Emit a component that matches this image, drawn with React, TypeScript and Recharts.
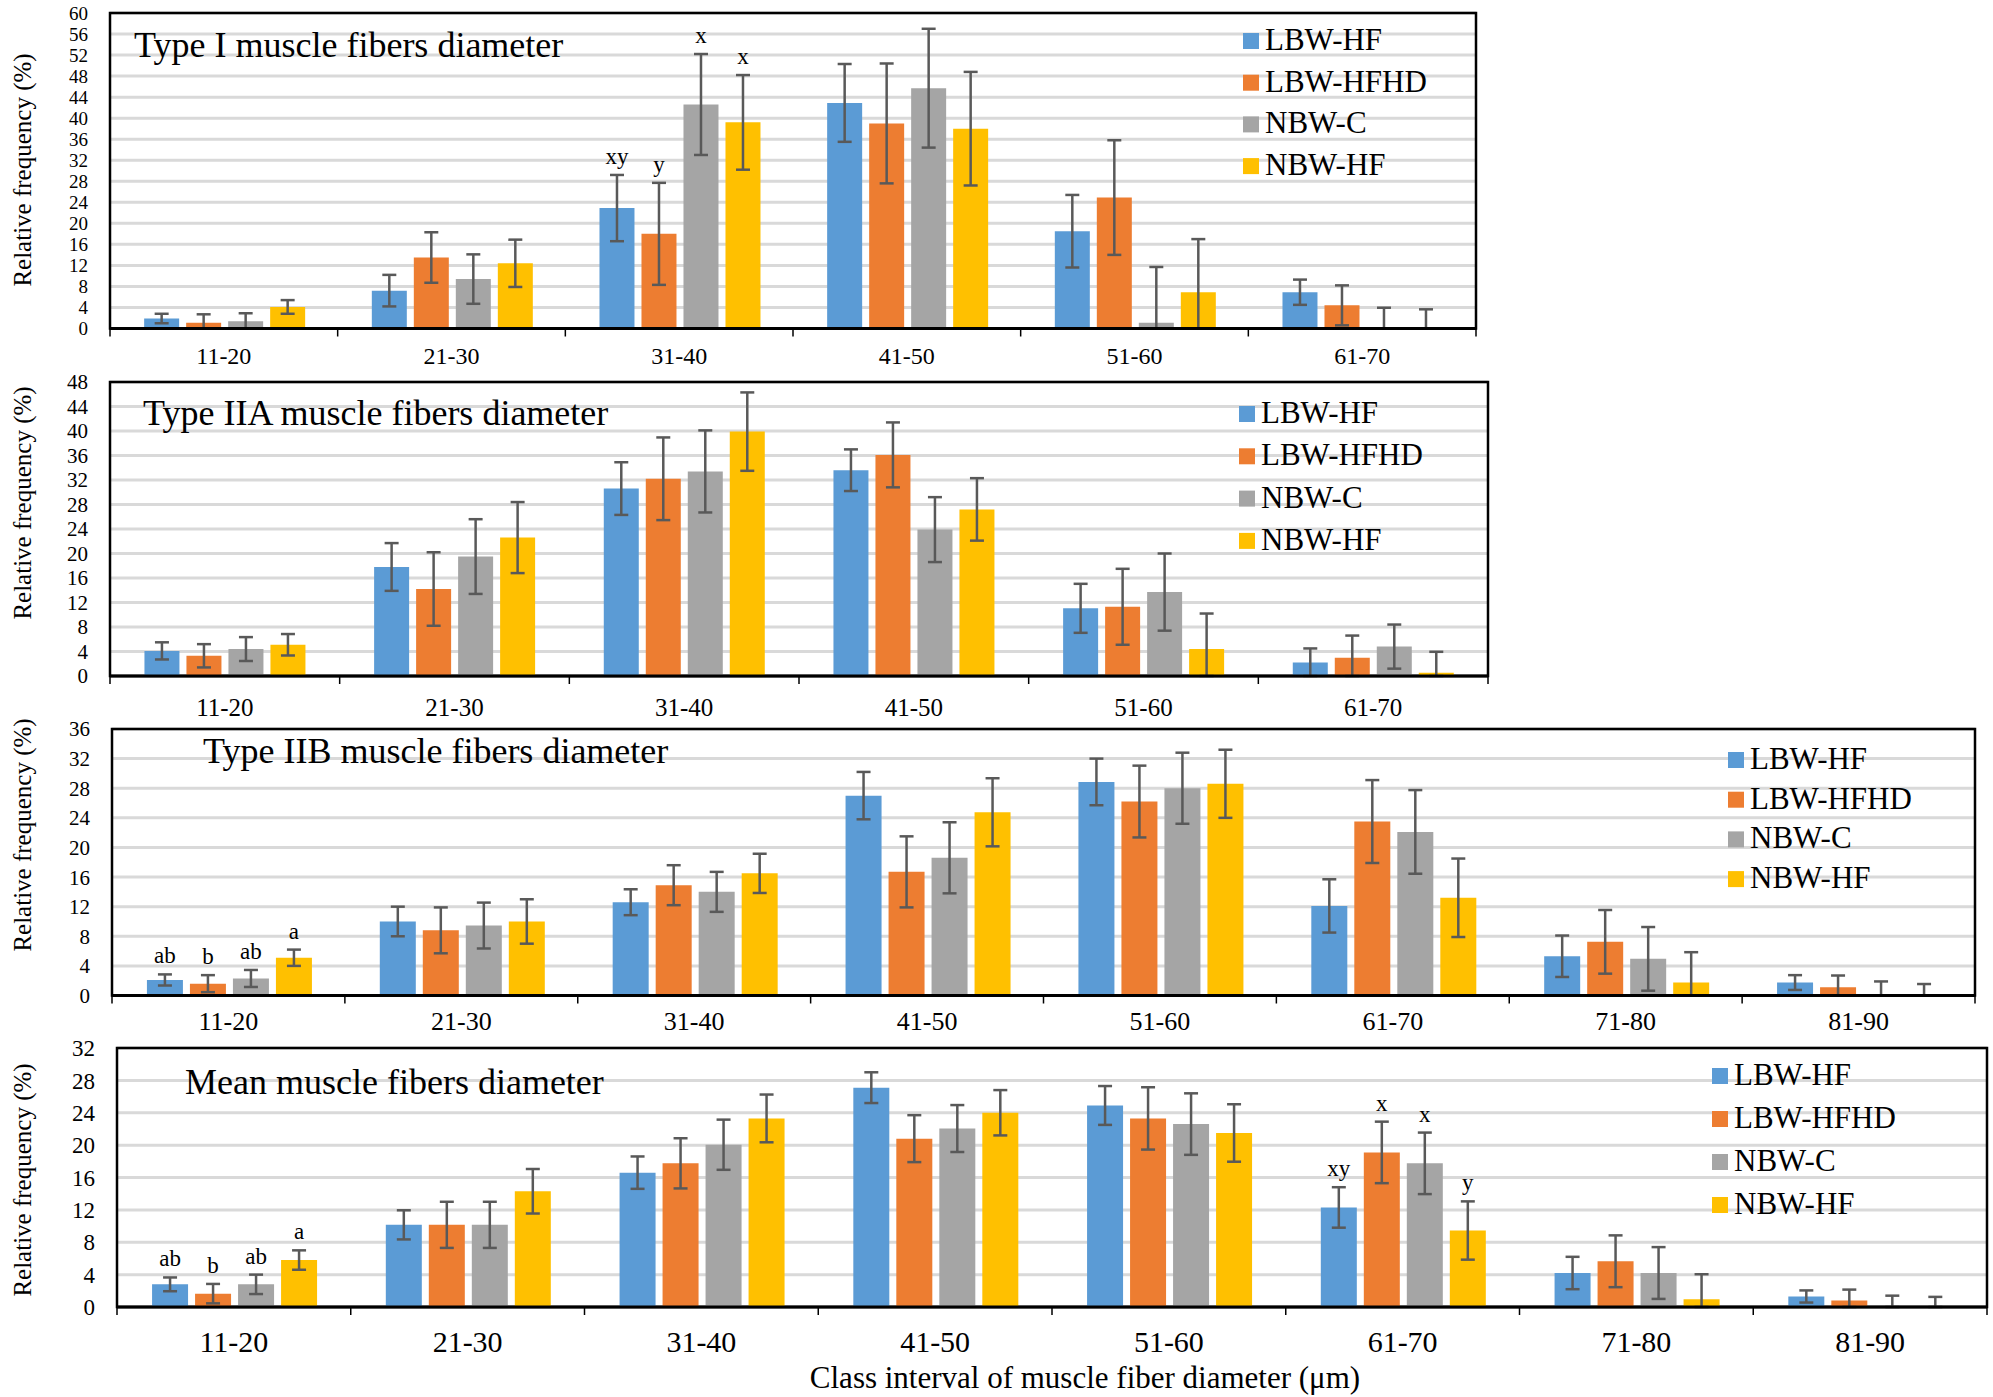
import React from "react";
import {
  BarChart,
  Bar,
  XAxis,
  YAxis,
  CartesianGrid,
  ErrorBar,
  LabelList,
  Legend,
  ReferenceArea,
} from "recharts";

const GROUPS = ["LBW-HF", "LBW-HFHD", "NBW-C", "NBW-HF"];
const COLORS = ["#5B9BD5", "#ED7D31", "#A5A5A5", "#FFC000"];
const SERIF = '"Liberation Serif", "Times New Roman", serif';

const CLASSES_6 = ["11-20", "21-30", "31-40", "41-50", "51-60", "61-70"];
const CLASSES_8 = ["11-20", "21-30", "31-40", "41-50", "51-60", "61-70", "71-80", "81-90"];

const TICKS_60 = [0, 4, 8, 12, 16, 20, 24, 28, 32, 36, 40, 44, 48, 52, 56, 60];
const TICKS_48 = [0, 4, 8, 12, 16, 20, 24, 28, 32, 36, 40, 44, 48];
const TICKS_36 = [0, 4, 8, 12, 16, 20, 24, 28, 32, 36];
const TICKS_32 = [0, 4, 8, 12, 16, 20, 24, 28, 32];

// rows follow GROUPS: LBW-HF, LBW-HFHD, NBW-C, NBW-HF
const typeIMean = [
  [1.9, 7.2, 22.9, 42.9, 18.5, 6.9],
  [1.1, 13.5, 18.0, 39.0, 24.9, 4.4],
  [1.4, 9.4, 42.6, 45.7, 1.1, 0.05],
  [4.1, 12.4, 39.2, 38.0, 6.9, 0.05],
];
const typeISd = [
  [0.9, 3.0, 6.3, 7.4, 6.9, 2.4],
  [1.6, 4.8, 9.7, 11.4, 10.9, 3.8],
  [1.5, 4.7, 9.6, 11.3, 10.6, 3.9],
  [1.3, 4.5, 9.0, 10.8, 10.1, 3.6],
];
const typeILetters = [
  ["", "", "xy", "", "", ""],
  ["", "", "y", "", "", ""],
  ["", "", "x", "", "", ""],
  ["", "", "x", "", "", ""],
];

const typeIIAMean = [
  [4.1, 17.8, 30.6, 33.6, 11.05, 2.2],
  [3.3, 14.2, 32.2, 36.1, 11.3, 3.0],
  [4.4, 19.5, 33.4, 23.9, 13.7, 4.8],
  [5.1, 22.6, 39.9, 27.2, 4.4, 0.55],
];
const typeIIASd = [
  [1.4, 3.9, 4.3, 3.4, 4.0, 2.3],
  [1.9, 6.0, 6.75, 5.3, 6.2, 3.6],
  [1.95, 6.1, 6.7, 5.3, 6.3, 3.6],
  [1.75, 5.8, 6.4, 5.1, 5.8, 3.4],
];

const typeIIBMean = [
  [2.1, 10.0, 12.6, 27.0, 28.85, 12.1, 5.3, 1.75],
  [1.6, 8.8, 14.9, 16.7, 26.2, 23.5, 7.25, 1.1],
  [2.3, 9.45, 14.0, 18.6, 28.0, 22.1, 4.95, 0.1],
  [5.1, 10.0, 16.5, 24.75, 28.6, 13.2, 1.75, 0.05],
];
const typeIIBSd = [
  [0.75, 2.0, 1.75, 3.2, 3.15, 3.6, 2.8, 1.0],
  [1.15, 3.1, 2.7, 4.8, 4.85, 5.6, 4.3, 1.6],
  [1.15, 3.1, 2.7, 4.8, 4.8, 5.65, 4.3, 1.8],
  [1.1, 3.0, 2.65, 4.6, 4.6, 5.3, 4.1, 1.5],
];
const typeIIBLetters = [
  ["ab", "", "", "", "", "", "", ""],
  ["b", "", "", "", "", "", "", ""],
  ["ab", "", "", "", "", "", "", ""],
  ["a", "", "", "", "", "", "", ""],
];

const meanMean = [
  [2.8, 10.15, 16.6, 27.1, 24.9, 12.3, 4.2, 1.3],
  [1.65, 10.15, 17.75, 20.8, 23.3, 19.1, 5.65, 0.8],
  [2.8, 10.15, 20.05, 22.05, 22.6, 17.75, 4.2, 0.05],
  [5.8, 14.3, 23.3, 24.0, 21.5, 9.45, 0.95, 0.05],
];
const meanSd = [
  [0.85, 1.8, 2.0, 1.9, 2.4, 2.5, 2.0, 0.75],
  [1.2, 2.85, 3.1, 2.9, 3.85, 3.8, 3.2, 1.35],
  [1.2, 2.85, 3.1, 2.9, 3.8, 3.8, 3.2, 1.35],
  [1.2, 2.75, 2.95, 2.8, 3.55, 3.6, 3.1, 1.2],
];
const meanLetters = [
  ["ab", "", "", "", "", "xy", "", ""],
  ["b", "", "", "", "", "x", "", ""],
  ["ab", "", "", "", "", "x", "", ""],
  ["a", "", "", "", "", "y", "", ""],
];

type PanelProps = {
  classes: string[];
  mean: number[][];
  sd: number[][];
  letters?: string[][];
  ticks: number[];
  yFont: number;
  plotLeft: number;
  plotRight: number;
  plotTop: number;
  plotBottom: number;
  tickFont: number;
  tickBaseline: number;
  legendX: number;
  legendY: number;
  legendGap: number;
};

const TOP_PAD = 24;

function Panel(p: PanelProps) {
  const rows = p.classes.map((cls, i) => {
    const row: Record<string, any> = { cls };
    GROUPS.forEach((_, k) => {
      const m = p.mean[k][i];
      const s = p.sd[k][i];
      row[`m${k}`] = m;
      row[`e${k}`] = [Math.min(s, m), s];
      row[`s${k}`] = s;
      row[`t${k}`] = p.letters ? p.letters[k][i] : "";
    });
    return row;
  });

  const top = p.plotTop - TOP_PAD;
  const width = p.plotRight + 10;
  const xAxisH = 60;
  const height = p.plotBottom - top + xAxisH;
  const yMax = p.ticks[p.ticks.length - 1];

  const ClassTick = (t: any) => {
    const half =
      t.payload && t.payload.offset ? t.payload.offset : t.width / t.visibleTicksCount / 2;
    const axisY = p.plotBottom - top;
    return (
      <g>
        <line x1={t.x - half} x2={t.x - half} y1={axisY} y2={axisY + 8} stroke="#000" strokeWidth={1.5} />
        {t.index === t.visibleTicksCount - 1 && (
          <line x1={t.x + half} x2={t.x + half} y1={axisY} y2={axisY + 8} stroke="#000" strokeWidth={1.5} />
        )}
        <text
          x={t.x}
          y={axisY + p.tickBaseline}
          textAnchor="middle"
          fontFamily={SERIF}
          fontSize={p.tickFont}
          fill="#000"
        >
          {t.payload.value}
        </text>
      </g>
    );
  };

  const letterContent = (k: number) => (lp: any) => {
    const value = lp.value;
    if (!value) return null;
    const vb = lp.viewBox || lp;
    const x = Number(vb.x ?? lp.x);
    const y = Number(vb.y ?? lp.y);
    const w = Number(vb.width ?? lp.width);
    const h = Number(vb.height ?? lp.height);
    const row = rows[lp.index];
    const errTop = y - (row[`s${k}`] / row[`m${k}`]) * h;
    return (
      <text x={x + w / 2} y={errTop - 11} textAnchor="middle" fontFamily={SERIF} fontSize={23} fill="#000">
        {value}
      </text>
    );
  };

  const renderLegend = () => (
    <svg width={230} height={40 + p.legendGap * 3}>
      {GROUPS.map((g, k) => (
        <g key={g}>
          <rect x={0} y={30 + k * p.legendGap - 17} width={16} height={16} fill={COLORS[k]} />
          <text x={22} y={30 + k * p.legendGap} fontFamily={SERIF} fontSize={31} fill="#000">
            {g}
          </text>
        </g>
      ))}
    </svg>
  );

  return (
    <div style={{ position: "absolute", left: 0, top }}>
      <BarChart
        width={width}
        height={height}
        data={rows}
        margin={{ top: TOP_PAD, right: 10, bottom: 0, left: 0 }}
        barCategoryGap="15%"
        barGap={7}
      >
        <CartesianGrid vertical={false} stroke="#D9D9D9" strokeWidth={3} />
        <XAxis
          dataKey="cls"
          height={xAxisH}
          interval={0}
          axisLine={{ stroke: "#000", strokeWidth: 3 }}
          tickLine={false}
          tickSize={0}
          tickMargin={0}
          tick={ClassTick}
        />
        <YAxis
          width={p.plotLeft}
          domain={[0, yMax]}
          ticks={p.ticks}
          interval={0}
          axisLine={false}
          tickLine={false}
          tickSize={0}
          tickMargin={22}
          tick={{ fontFamily: SERIF, fontSize: p.yFont, fill: "#000" }}
        />
        <ReferenceArea y1={0} y2={yMax} fill="none" stroke="#000" strokeWidth={2.5} ifOverflow="visible" />
        {GROUPS.map((g, k) => (
          <Bar key={g} dataKey={`m${k}`} name={g} fill={COLORS[k]} isAnimationActive={false}>
            <ErrorBar dataKey={`e${k}`} width={7} stroke="#595959" strokeWidth={2.5} />
            {p.letters && <LabelList dataKey={`t${k}`} content={letterContent(k)} />}
          </Bar>
        ))}
        <Legend
          layout="vertical"
          align="center"
          verticalAlign="middle"
          content={renderLegend}
          wrapperStyle={{ left: p.legendX, top: p.legendY - top - 30, width: 230, height: 40 + p.legendGap * 3 }}
        />
      </BarChart>
    </div>
  );
}

const PANEL_TITLES = [
  { text: "Type I muscle fibers diameter", x: 134, y: 57, yTitle: 170 },
  { text: "Type IIA muscle fibers diameter", x: 143, y: 425, yTitle: 503 },
  { text: "Type IIB muscle fibers diameter", x: 203, y: 763, yTitle: 835 },
  { text: "Mean muscle fibers diameter", x: 185, y: 1094, yTitle: 1180 },
];

export default function App() {
  return (
    <div
      style={{
        position: "absolute",
        left: 0,
        top: 0,
        width: 1993,
        height: 1397,
        background: "#fff",
        overflow: "hidden",
      }}
    >
      <Panel
        classes={CLASSES_6}
        mean={typeIMean}
        sd={typeISd}
        letters={typeILetters}
        ticks={TICKS_60}
        yFont={19}
        plotLeft={110}
        plotRight={1476}
        plotTop={12.5}
        plotBottom={328}
        tickFont={24}
        tickBaseline={35}
        legendX={1243}
        legendY={50}
        legendGap={41.7}
      />
      <Panel
        classes={CLASSES_6}
        mean={typeIIAMean}
        sd={typeIIASd}
        ticks={TICKS_48}
        yFont={21}
        plotLeft={110}
        plotRight={1488}
        plotTop={382}
        plotBottom={676}
        tickFont={25}
        tickBaseline={40}
        legendX={1239}
        legendY={423}
        legendGap={42.3}
      />
      <Panel
        classes={CLASSES_8}
        mean={typeIIBMean}
        sd={typeIIBSd}
        letters={typeIIBLetters}
        ticks={TICKS_36}
        yFont={21}
        plotLeft={112}
        plotRight={1975}
        plotTop={728.5}
        plotBottom={995}
        tickFont={26}
        tickBaseline={34}
        legendX={1728}
        legendY={769}
        legendGap={39.7}
      />
      <Panel
        classes={CLASSES_8}
        mean={meanMean}
        sd={meanSd}
        letters={meanLetters}
        ticks={TICKS_32}
        yFont={23}
        plotLeft={117}
        plotRight={1987}
        plotTop={1048}
        plotBottom={1307}
        tickFont={30}
        tickBaseline={45}
        legendX={1712}
        legendY={1085}
        legendGap={43}
      />
      <svg
        width={1993}
        height={1397}
        style={{ position: "absolute", left: 0, top: 0, pointerEvents: "none" }}
      >
        {PANEL_TITLES.map((t) => (
          <g key={t.text}>
            <text x={t.x} y={t.y} fontFamily={SERIF} fontSize={36} fill="#000">
              {t.text}
            </text>
            <text
              x={22}
              y={t.yTitle}
              transform={`rotate(-90 22 ${t.yTitle})`}
              textAnchor="middle"
              dominantBaseline="central"
              fontFamily={SERIF}
              fontSize={25}
              fill="#000"
            >
              Relative frequency (%)
            </text>
          </g>
        ))}
        <text x={1085} y={1388} textAnchor="middle" fontFamily={SERIF} fontSize={31} fill="#000">
          Class interval of muscle fiber diameter (μm)
        </text>
      </svg>
    </div>
  );
}
